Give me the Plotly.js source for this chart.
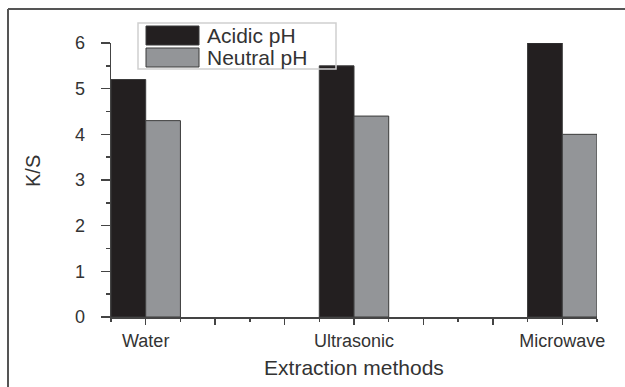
<!DOCTYPE html>
<html><head><meta charset="utf-8">
<script src="https://cdn.plot.ly/plotly-3.0.1.min.js"></script>
<style>html,body{margin:0;padding:0;background:#fff;}#chart{width:625px;height:387px;}</style>
</head><body><div id="chart"></div>
<script>
var categories = ["Water", "Ultrasonic", "Microwave"];
var seriesNames = ["Acidic pH", "Neutral pH"];
var acidic = [5.2, 5.5, 6.0];
var neutral = [4.3, 4.4, 4.0];
var yTicks = [0, 1, 2, 3, 4, 5, 6];

var W = 625, H = 387;
var M = {l: 111, r: 28, t: 43, b: 70};
var pw = W - M.l - M.r, ph = H - M.t - M.b;
function px(x){ return (x - M.l) / pw; }
function py(y){ return (H - M.b - y) / ph; }

// category positions on a linear axis (6 units apart, starting at 1)
var xpos = categories.map(function(c, i){ return 1 + 6 * i; });
var majorVals = [], majorText = [];
for (var v = 1; v <= 13; v += 2) {
  majorVals.push(v);
  var idx = xpos.indexOf(v);
  majorText.push(idx >= 0 ? categories[idx] : "");
}

var colors = ["#231f20", "#939598"];
var traces = [acidic, neutral].map(function(vals, k){
  return {
    type: "bar", x: xpos, y: vals, name: seriesNames[k],
    marker: {color: colors[k], line: {color: "#3a3a3a", width: 1}},
    showlegend: false, hoverinfo: "skip"
  };
});

var font = "Liberation Sans, Arial, sans-serif";
var txt = "#333";

var shapes = [
  {type: "line", xref: "paper", yref: "paper", x0: px(8), x1: px(8), y0: py(400), y1: py(9), line: {color: "#555", width: 2}},
  {type: "line", xref: "paper", yref: "paper", x0: px(8), x1: px(640), y0: py(9), y1: py(9), line: {color: "#555", width: 2}},
  {type: "rect", xref: "paper", yref: "paper", x0: px(138), x1: px(336), y0: py(69), y1: py(23), line: {color: "#d0d0d0", width: 1.5}, fillcolor: "rgba(255,255,255,0)"},
  {type: "rect", xref: "paper", yref: "paper", x0: px(146), x1: px(199), y0: py(45), y1: py(26), line: {color: "#3a3a3a", width: 1}, fillcolor: colors[0]},
  {type: "rect", xref: "paper", yref: "paper", x0: px(146), x1: px(199), y0: py(67), y1: py(48), line: {color: "#3a3a3a", width: 1}, fillcolor: colors[1]}
];
var annotations = [
  {xref: "paper", yref: "paper", x: px(205), y: py(35.5), xanchor: "left", yanchor: "middle", showarrow: false, text: seriesNames[0], font: {family: font, size: 21, color: txt}},
  {xref: "paper", yref: "paper", x: px(205), y: py(57.5), xanchor: "left", yanchor: "middle", showarrow: false, text: seriesNames[1], font: {family: font, size: 21, color: txt}},
  {xref: "paper", yref: "paper", x: px(33), y: py(171), xanchor: "center", yanchor: "middle", textangle: -90, showarrow: false, text: "K/S", font: {family: font, size: 20, color: txt}}
];

var layout = {
  width: W, height: H,
  margin: M,
  paper_bgcolor: "#fff", plot_bgcolor: "#fff",
  barmode: "group", bargap: 2/3, bargroupgap: 0,
  showlegend: false,
  font: {family: font, color: txt},
  xaxis: {
    range: [0, 14], tickmode: "array", tickvals: majorVals, ticktext: majorText,
    ticks: "outside", ticklen: 6, tickwidth: 1.5, tickcolor: "#444",
    showline: true, linecolor: "#444", linewidth: 1.5, showgrid: false, zeroline: false,
    tickfont: {family: font, size: 18, color: txt}, ticklabelstandoff: 1,
    minor: {tickmode: "linear", tick0: 0, dtick: 1, ticks: "outside", ticklen: 3, tickwidth: 1.5, tickcolor: "#444", showgrid: false},
    title: {text: "Extraction methods", font: {family: font, size: 21, color: txt}, standoff: 10}
  },
  yaxis: {
    range: [0, 6], tickmode: "array", tickvals: yTicks,
    ticks: "outside", ticklen: 9, tickwidth: 1.5, tickcolor: "#444",
    showline: true, linecolor: "#444", linewidth: 1.5, showgrid: false, zeroline: false,
    tickfont: {family: font, size: 18, color: txt}, ticklabelstandoff: 12,
    minor: {tickmode: "linear", tick0: 0, dtick: 0.5, ticks: "outside", ticklen: 4, tickwidth: 1.5, tickcolor: "#444", showgrid: false}
  },
  shapes: shapes,
  annotations: annotations
};

Plotly.newPlot("chart", traces, layout, {displayModeBar: false, staticPlot: true});
</script>
</body></html>
